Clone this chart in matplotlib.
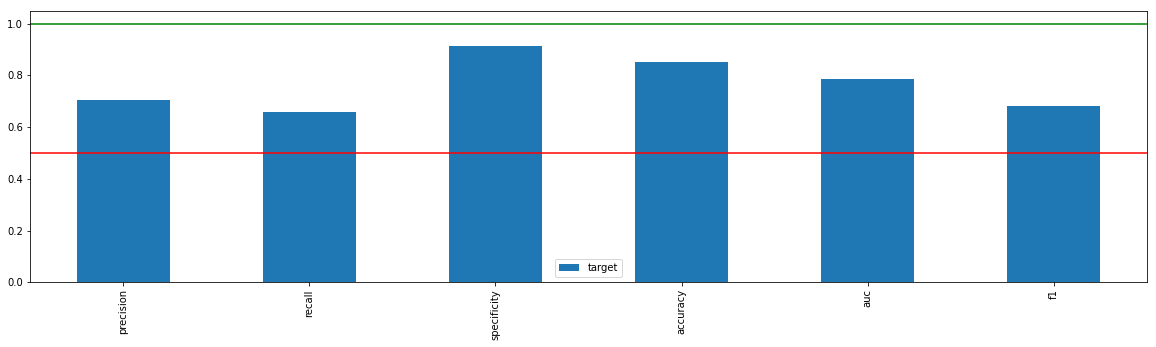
import matplotlib
matplotlib.use("Agg")
import matplotlib.pyplot as plt
import numpy as np

metrics = ["precision", "recall", "specificity", "accuracy", "auc", "f1"]
target = [0.704, 0.657, 0.912, 0.851, 0.785, 0.680]

plt.rcParams['font.size'] = 10
fig = plt.figure(figsize=(1156/72, 347/72), dpi=72)
ax = fig.add_axes([30/1156, 1 - 282.3/347, (1147-30)/1156, (282.3-10.7)/347])
x = np.arange(len(metrics))
ax.bar(x, target, width=0.5, color="#1f77b4", label="target")
ax.axhline(1.0, color="g", linewidth=1.5)
ax.axhline(0.5, color="r", linewidth=1.5)
ax.set_xlim(-0.5, len(metrics) - 0.5)
ax.set_ylim(0, 1.05)
ax.set_xticks(x)
ax.set_xticklabels(metrics, rotation=90)
ax.set_yticks([0.0, 0.2, 0.4, 0.6, 0.8, 1.0])
ax.legend(loc="lower center")
fig.savefig("out.png", dpi=72)
